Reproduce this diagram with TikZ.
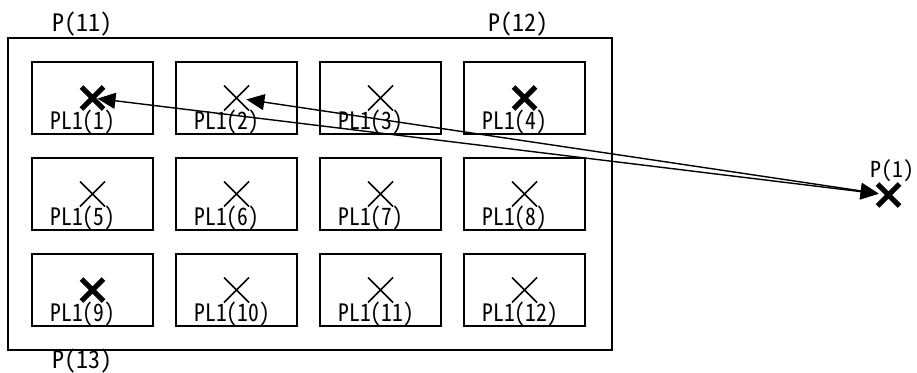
\documentclass[tikz,border=0pt]{standalone}
\usepackage{fontspec}
\usetikzlibrary{arrows.meta}
\newfontfamily\gothic[RawFeature=+hwid]{Noto Sans CJK JP}
\newfontfamily\gothicn[RawFeature=+hwid,FakeStretch=0.9]{Noto Sans CJK JP}

\begin{document}
\begin{tikzpicture}[x=1pt, y=-1pt, >={Triangle[length=18pt,width=16pt]},
    cell/.style={draw, line width=1.3pt, minimum width=121pt, minimum height=72pt, inner sep=0pt},
    tag/.style={anchor=base west, inner sep=0pt, font=\gothicn\fontsize{24}{24}\selectfont},
    ptag/.style={anchor=base west, inner sep=0pt, font=\gothic\fontsize{24}{24}\selectfont},
    xthin/.style={line width=1.5pt},
    xbold/.style={line width=5pt},
    link/.style={<->, line width=1.4pt}]
  \useasboundingbox (0,0) rectangle (917,372);

  % Khung ngoai
  \draw[line width=1.3pt] (8,38) rectangle (612,350);
  \node[ptag] (p11) at (52,31) {P(11)};
  \node[ptag] (p12) at (488,31) {P(12)};
  \node[ptag] (p13) at (52,368) {P(13)};

  % Cac o PL1
  \foreach \i in {1,...,12}{
    \pgfmathtruncatemacro{\col}{mod(\i-1,4)}
    \pgfmathtruncatemacro{\row}{div(\i-1,4)}
    \node[cell] (b\i) at (92.5+144*\col, 98+96*\row) {};
    \node[tag] (t\i) at ([shift={(19,-5)}]b\i.south west) {PL1(\i)};
  }

  % Dau X
  \foreach \i in {2,3,5,6,7,8,10,11,12}
    \draw[xthin] (b\i.center) +(-12.5,-12.5) -- +(12.5,12.5) +(-12.5,12.5) -- +(12.5,-12.5);
  \foreach \i in {1,4,9}
    \draw[xbold] (b\i.center) +(-11,-11) -- +(11,11) +(-11,11) -- +(11,-11);

  % Diem P(1)
  \coordinate (p1) at (888.5,195);
  \draw[xbold] (p1) +(-11,-11) -- +(11,11) +(-11,11) -- +(11,-11);
  \node[ptag, font=\gothic\fontsize{22}{22}\selectfont] (p1t) at (870,177) {P(1)};

  % Mui ten
  \draw[link, shorten <=5pt, shorten >=10pt] (b1.center) -- (p1);
  \draw[link, shorten <=10pt, shorten >=10pt] (b2.center) -- (p1);
\end{tikzpicture}
\end{document}
